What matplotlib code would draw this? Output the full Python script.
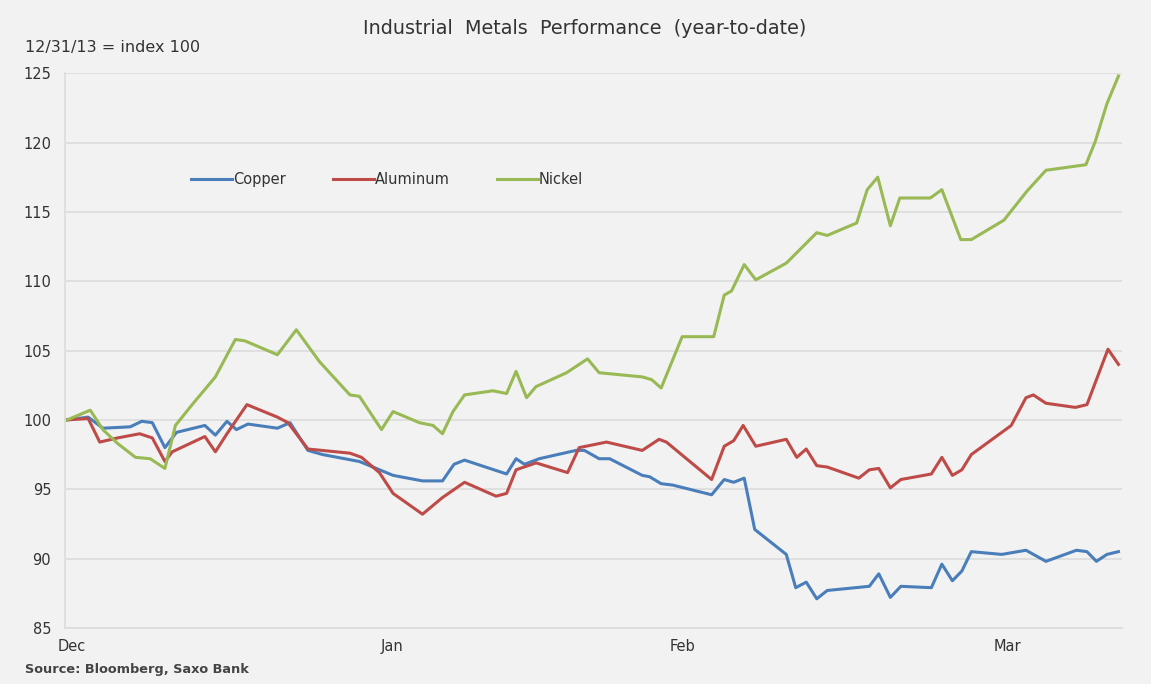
## Import libraries
import numpy as np
from matplotlib import pyplot as plt

## Data (x = days from start, value = index)
copper_x = [0, 2.0, 3.4, 6.0, 7.1, 8.1, 9.3, 10.4, 13.1, 14.1, 15.2, 16.1, 17.2, 20.0, 21.2,
            22.9, 24.3, 27.8, 31.0, 33.8, 35.7, 36.8, 37.8, 41.8, 42.7, 43.5, 44.9, 48.4,
            49.2, 50.6, 51.6, 54.7, 55.4, 56.5, 57.6, 61.3, 62.5, 63.4, 64.4, 65.4, 68.4,
            69.3, 70.3, 71.3, 72.3, 76.3, 77.2, 78.3, 79.3, 82.2, 83.2, 84.2, 85.1, 86.0,
            88.9, 91.2, 93.1, 96.0, 97.0, 97.9, 98.9, 100.0]
copper = [100.0, 100.2, 99.4, 99.5, 99.9, 99.8, 98.0, 99.1, 99.6, 98.9, 99.9, 99.3, 99.7,
          99.4, 99.8, 97.8, 97.5, 97.0, 96.0, 95.6, 95.6, 96.8, 97.1, 96.1, 97.2, 96.8,
          97.2, 97.8, 97.8, 97.2, 97.2, 96.0, 95.9, 95.4, 95.3, 94.6, 95.7, 95.5, 95.8,
          92.1, 90.3, 87.9, 88.3, 87.1, 87.7, 88.0, 88.9, 87.2, 88.0, 87.9, 89.6, 88.4,
          89.1, 90.5, 90.3, 90.6, 89.8, 90.6, 90.5, 89.8, 90.3, 90.5]

aluminum_x = [0, 2.0, 3.1, 4.8, 6.9, 8.1, 9.3, 10.0, 13.1, 14.1, 15.2, 17.1, 20.0, 21.0,
              22.9, 26.9, 28.0, 29.7, 31.0, 33.8, 35.7, 37.8, 40.8, 41.8, 42.7, 44.6,
              47.6, 48.7, 51.3, 54.7, 56.3, 57.0, 61.3, 62.5, 63.4, 64.3, 65.5, 68.4,
              69.4, 70.3, 71.3, 72.3, 75.3, 76.3, 77.2, 78.3, 79.3, 82.2, 83.2, 84.2,
              85.1, 86.0, 89.8, 91.2, 91.9, 93.1, 95.9, 97.0, 99.0, 100.0]
aluminum = [100.0, 100.1, 98.4, 98.7, 99.0, 98.7, 97.0, 97.7, 98.8, 97.7, 99.0, 101.1,
            100.2, 99.8, 97.9, 97.6, 97.3, 96.2, 94.7, 93.2, 94.4, 95.5, 94.5, 94.7,
            96.4, 96.9, 96.2, 98.0, 98.4, 97.8, 98.6, 98.4, 95.7, 98.1, 98.5, 99.6,
            98.1, 98.6, 97.3, 97.9, 96.7, 96.6, 95.8, 96.4, 96.5, 95.1, 95.7, 96.1,
            97.3, 96.0, 96.4, 97.5, 99.6, 101.6, 101.8, 101.2, 100.9, 101.1, 105.1, 104.0]

nickel_x = [0, 2.2, 3.4, 4.8, 6.5, 7.9, 9.3, 10.3, 12.0, 14.1, 16.0, 16.9, 20.0, 21.8,
            24.0, 26.9, 27.8, 29.9, 31.0, 33.5, 34.8, 35.7, 36.7, 37.8, 40.5, 41.8, 42.7,
            43.7, 44.6, 47.5, 49.5, 50.6, 54.7, 55.6, 56.5, 58.5, 61.5, 62.5, 63.2, 64.4,
            65.5, 68.4, 71.3, 72.3, 75.1, 76.1, 77.1, 78.3, 79.2, 82.1, 83.2, 85.0, 86.0,
            89.1, 91.3, 93.1, 96.9, 97.8, 98.9, 100.0]
nickel = [100.0, 100.7, 99.3, 98.3, 97.3, 97.2, 96.5, 99.6, 101.2, 103.1, 105.8, 105.7,
          104.7, 106.5, 104.2, 101.8, 101.7, 99.3, 100.6, 99.8, 99.6, 99.0, 100.6, 101.8,
          102.1, 101.9, 103.5, 101.6, 102.4, 103.4, 104.4, 103.4, 103.1, 102.9, 102.3,
          106.0, 106.0, 109.0, 109.3, 111.2, 110.1, 111.3, 113.5, 113.3, 114.2, 116.6,
          117.5, 114.0, 116.0, 116.0, 116.6, 113.0, 113.0, 114.4, 116.5, 118.0, 118.4,
          120.1, 122.8, 124.8]

month_pos = [0.4, 30.9, 58.5, 89.4]
month_labels = ['Dec', 'Jan', 'Feb', 'Mar']
y_ticks = [85, 90, 95, 100, 105, 110, 115, 120, 125]

bg = '#f2f2f2'
text_col = '#333333'

## Figure
fig = plt.figure(figsize=(11.51, 6.84), dpi=100, facecolor=bg)
ax = fig.add_axes([0.0565, 0.082, 0.918, 0.811], facecolor=bg)

ax.plot(copper_x, copper, color='#4a7ebb', lw=2.2, label='Copper', solid_joinstyle='round')
ax.plot(aluminum_x, aluminum, color='#be4b48', lw=2.2, label='Aluminum', solid_joinstyle='round')
ax.plot(nickel_x, nickel, color='#98b954', lw=2.2, label='Nickel', solid_joinstyle='round')

ax.set_xlim(-0.2, 100.3)
ax.set_ylim(85, 125)
ax.set_yticks(y_ticks)
ax.set_xticks(month_pos)
ax.set_xticklabels(month_labels)
ax.tick_params(axis='both', length=0, labelsize=10.5, labelcolor=text_col)
ax.tick_params(axis='y', pad=10)
ax.tick_params(axis='x', pad=8)
ax.grid(axis='y', color='#dcdcdc', lw=1.2)
ax.set_axisbelow(True)
for s in ['top', 'right']:
    ax.spines[s].set_visible(False)
ax.spines['left'].set_color('#dcdcdc')
ax.spines['bottom'].set_color('#dcdcdc')
ax.spines['left'].set_linewidth(1.2)
ax.spines['bottom'].set_linewidth(1.2)

## Texts
fig.text(0.508, 0.958, 'Industrial  Metals  Performance  (year-to-date)', ha='center', va='center',
         fontsize=13.8, color=text_col)
fig.text(0.022, 0.931, '12/31/13 = index 100', ha='left', va='center', fontsize=11.5, color=text_col)
fig.text(0.022, 0.012, 'Source: Bloomberg, Saxo Bank', ha='left', va='bottom', fontsize=9.3,
         fontweight='bold', color='#444444')

ax.legend(loc='center left', bbox_to_anchor=(178 / 1151, 1 - 180 / 684), bbox_transform=fig.transFigure,
          ncol=3, frameon=False, fontsize=10.5, handlelength=2.8, handletextpad=0.1,
          columnspacing=3.2, labelcolor=text_col)

plt.savefig('out.png', dpi=100, facecolor=bg)
plt.close('all')
